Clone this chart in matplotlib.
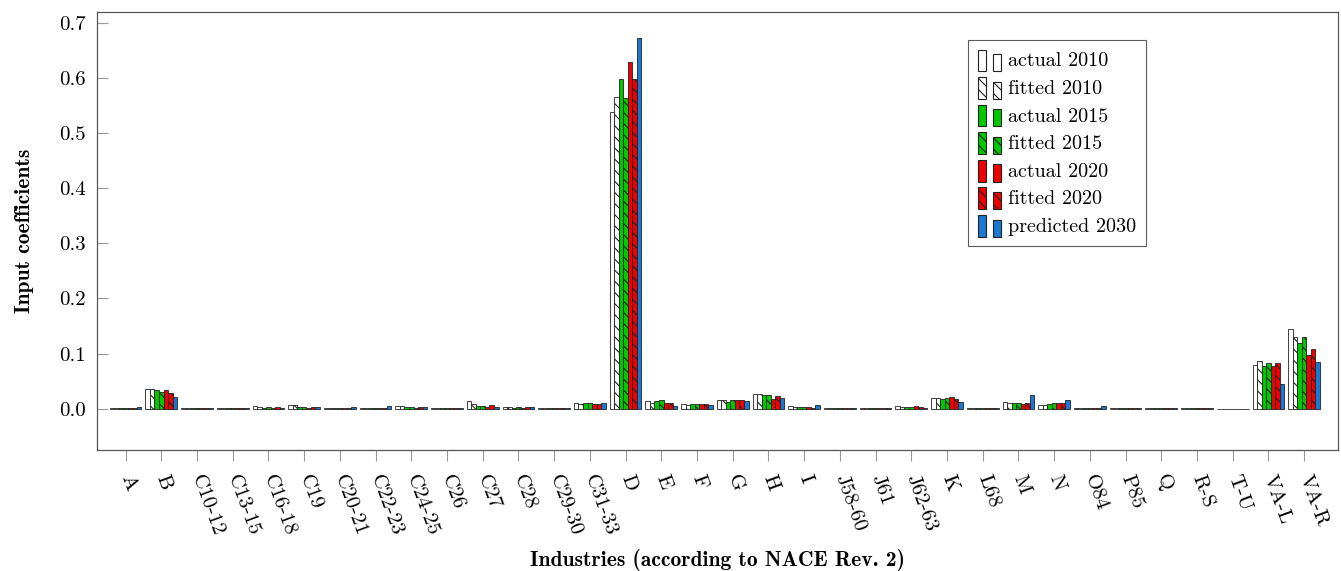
import matplotlib.pyplot as plt
import numpy as np
from matplotlib.patches import Patch, Rectangle

plt.rcParams['font.family'] = 'cmr10'
plt.rcParams['axes.formatter.use_mathtext'] = True
plt.rcParams['hatch.linewidth'] = 0.8

industries = ['A', 'B', 'C10-12', 'C13-15', 'C16-18', 'C19', 'C20-21', 'C22-23', 'C24-25',
              'C26', 'C27', 'C28', 'C29-30', 'C31-33', 'D', 'E', 'F', 'G', 'H', 'I',
              'J58-60', 'J61', 'J62-63', 'K', 'L68', 'M', 'N', 'O84', 'P85', 'Q', 'R-S',
              'T-U', 'VA-L', 'VA-R']

actual_2010 = [0.001, 0.036, 0.001, 0.0005, 0.004, 0.006, 0.001, 0.002, 0.004, 0.001, 0.014, 0.003,
               0.001, 0.010, 0.539, 0.013, 0.009, 0.015, 0.026, 0.004, 0.001, 0.001, 0.004, 0.019,
               0.002, 0.012, 0.007, 0.002, 0.002, 0.0005, 0.0005, 0.0002, 0.080, 0.144]
fitted_2010 = [0.001, 0.036, 0.001, 0.0005, 0.003, 0.006, 0.001, 0.002, 0.004, 0.001, 0.008, 0.003,
               0.001, 0.009, 0.566, 0.011, 0.006, 0.016, 0.026, 0.003, 0.001, 0.001, 0.003, 0.019,
               0.002, 0.011, 0.007, 0.002, 0.001, 0.0005, 0.0005, 0.0002, 0.087, 0.130]
actual_2015 = [0.001, 0.033, 0.001, 0.0005, 0.002, 0.003, 0.001, 0.002, 0.003, 0.001, 0.005, 0.002,
               0.001, 0.010, 0.598, 0.014, 0.008, 0.012, 0.024, 0.003, 0.001, 0.001, 0.003, 0.017,
               0.002, 0.010, 0.009, 0.001, 0.001, 0.0005, 0.0005, 0.0002, 0.078, 0.120]
fitted_2015 = [0.001, 0.031, 0.001, 0.0005, 0.003, 0.003, 0.001, 0.002, 0.003, 0.001, 0.004, 0.003,
               0.001, 0.010, 0.564, 0.016, 0.008, 0.015, 0.024, 0.003, 0.001, 0.001, 0.003, 0.019,
               0.002, 0.010, 0.011, 0.001, 0.001, 0.0005, 0.0005, 0.0002, 0.083, 0.130]
actual_2020 = [0.001, 0.033, 0.001, 0.0005, 0.002, 0.002, 0.001, 0.002, 0.002, 0.001, 0.003, 0.002,
               0.001, 0.008, 0.630, 0.011, 0.009, 0.016, 0.018, 0.003, 0.001, 0.001, 0.004, 0.021,
               0.002, 0.008, 0.011, 0.002, 0.001, 0.0005, 0.0005, 0.0002, 0.077, 0.098]
fitted_2020 = [0.002, 0.028, 0.001, 0.0005, 0.003, 0.003, 0.001, 0.002, 0.003, 0.001, 0.007, 0.003,
               0.001, 0.009, 0.598, 0.011, 0.009, 0.015, 0.023, 0.002, 0.001, 0.001, 0.003, 0.017,
               0.002, 0.011, 0.011, 0.002, 0.001, 0.0005, 0.0005, 0.0002, 0.082, 0.109]
predicted_2030 = [0.003, 0.021, 0.001, 0.0005, 0.002, 0.003, 0.003, 0.004, 0.003, 0.001, 0.003, 0.003,
                  0.001, 0.010, 0.673, 0.004, 0.006, 0.014, 0.019, 0.007, 0.001, 0.001, 0.001, 0.012,
                  0.002, 0.024, 0.015, 0.004, 0.001, 0.0005, 0.0005, 0.0002, 0.044, 0.084]

series = [
    ('actual 2010', actual_2010, 'white', ''),
    ('fitted 2010', fitted_2010, 'white', '\\\\\\'),
    ('actual 2015', actual_2015, '#00c800', ''),
    ('fitted 2015', fitted_2015, '#00c800', '\\\\\\'),
    ('actual 2020', actual_2020, '#ee0000', ''),
    ('fitted 2020', fitted_2020, '#ee0000', '\\\\\\'),
    ('predicted 2030', predicted_2030, '#1a78d2', ''),
]


# legend entry like pgfplots ybar legend: two narrow bars
class TwoBars:
    def legend_artist(self, legend, orig, fontsize, handlebox):
        x0, y0 = handlebox.xdescent, handlebox.ydescent
        wd, ht = handlebox.width, handlebox.height
        bw = wd * 0.3
        for bx, bh in [(x0, ht * 1.2), (x0 + wd * 0.55, ht * 0.95)]:
            r = Rectangle((bx - x0, -y0 - ht * 0.15), bw, bh,
                          facecolor=orig.get_facecolor(), edgecolor='#222222',
                          hatch=orig.get_hatch(), linewidth=0.8,
                          transform=handlebox.get_transform())
            handlebox.add_artist(r)
        return r


fig = plt.figure(figsize=(13.41, 5.71), dpi=100)
ax = fig.add_axes([0.0723, 0.212, 0.9255, 0.767])

x = np.arange(len(industries))
w = 0.127
handles = []
labels = []
for i, (name, vals, col, hat) in enumerate(series):
    ax.bar(x + (i - 3) * w, vals, width=w, color=col, edgecolor='#222222',
           linewidth=0.6, hatch=hat)
    handles.append(Patch(facecolor=col, edgecolor='#222222', hatch=hat))
    labels.append(name)

ax.set_xlim(-0.8, 33.95)
ax.set_ylim(-0.075, 0.72)
ax.set_yticks(np.arange(0, 0.71, 0.1))
ax.set_yticklabels(['%.1f' % v for v in np.arange(0, 0.71, 0.1)])
ax.set_xticks(x)
ax.set_xticklabels(industries, rotation=-70, rotation_mode='anchor', ha='left', va='center')
ax.tick_params(axis='y', direction='in', length=8, color='#999999', labelsize=15, pad=8)
ax.tick_params(axis='x', direction='out', length=8, color='#999999', labelsize=15, pad=10)
for s in ax.spines.values():
    s.set_color('#555555')
    s.set_linewidth(0.9)

ax.set_ylabel('Input coefficients', fontsize=15.5, family='cmb10', labelpad=18)
ax.set_xlabel('Industries (according to NACE Rev. 2)', fontsize=15.5, family='cmb10', labelpad=8)

leg = ax.legend(handles, labels, handler_map={Patch: TwoBars()},
                loc='upper left', bbox_to_anchor=(0.694, 0.958), fontsize=14.5,
                frameon=True, fancybox=False, edgecolor='#333333', handlelength=1.3,
                handleheight=1.0, handletextpad=0.15, labelspacing=0.38, borderpad=0.5)
leg.get_frame().set_linewidth(0.8)

fig.savefig('out.png', dpi=100)
